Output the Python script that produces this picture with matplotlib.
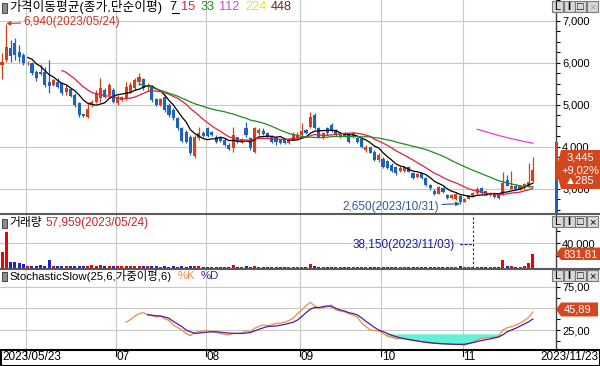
import numpy as np
import pandas as pd
import matplotlib
matplotlib.use('Agg')
import matplotlib.pyplot as plt
import matplotlib.transforms as mtrans
from matplotlib.patches import Rectangle, Polygon

plt.rcParams['font.family'] = ['Liberation Sans', 'Noto Sans CJK KR', 'DejaVu Sans']
plt.rcParams['font.size'] = 8.5

# daily candles 2023/05/23 .. 2023/11/23 (125 trading days)
opens = [5950, 6070, 6350, 6470, 6270, 6190, 5990, 5990, 5790, 5790,
         5790, 5555, 5475, 5555, 5515, 5320, 5380, 5240, 5040, 4780,
         4720, 5000, 5080, 5160, 5360, 5240, 5360, 5040, 5120, 5160,
         5320, 5400, 5555, 5610, 5435, 5435, 5135, 5000, 5200, 5000,
         4880, 4680, 4445, 4365, 4245, 3790, 4205, 4340, 4445, 4365,
         4245, 4205, 4165, 4045, 3970, 4230, 4125, 4445, 4205, 3890,
         4325, 4390, 4340, 4260, 4205, 4165, 4165, 4100, 4165, 4205,
         4285, 4405, 4485, 4760, 4445, 4205, 4445, 4525, 4405, 4230,
         4340, 4325, 4245, 4205, 4180, 3930, 3990, 3890, 3690, 3705,
         3665, 3570, 3530, 3435, 3430, 3530, 3390, 3295, 3375, 3255,
         3095, 2960, 2890, 3030, 2860, 2790, 2760, 2830, 2700, 2770,
         2840, 2900, 3020, 2940, 2850, 2870, 2860, 2880, 3220, 3010,
         3080, 2990, 3020, 3060, 3190]
highs = [6230, 6940, 6550, 6590, 6430, 6230, 6050, 6030, 5830, 5950,
         5910, 6070, 5620, 5635, 5555, 5475, 5400, 5280, 5080, 4790,
         5080, 5120, 5360, 5635, 5400, 5515, 5400, 5240, 5210, 5555,
         5555, 5635, 5770, 5635, 5515, 5475, 5160, 5170, 5240, 5040,
         4920, 4720, 4485, 4405, 4285, 4285, 4485, 4370, 4485, 4390,
         4285, 4230, 4205, 4085, 4485, 4245, 4210, 4605, 4245, 4485,
         4445, 4445, 4365, 4285, 4260, 4190, 4190, 4210, 4365, 4365,
         4565, 4430, 4840, 4800, 4470, 4350, 4485, 4580, 4430, 4365,
         4365, 4340, 4350, 4230, 4205, 4050, 4010, 3930, 3850, 3770,
         3690, 3610, 3550, 3550, 3540, 3550, 3415, 3380, 3390, 3295,
         3110, 3000, 3080, 3050, 2880, 2890, 2900, 2850, 2790, 2860,
         2930, 3040, 3050, 2960, 2920, 2890, 2880, 3400, 3340, 3440,
         3110, 3090, 3150, 3610, 3760]
lows = [5610, 6030, 6030, 6070, 6030, 5950, 5960, 5710, 5560, 5710,
        5440, 5280, 5450, 5400, 5240, 5240, 5180, 4960, 4720, 4720,
        4680, 4960, 5040, 5080, 5160, 5200, 5040, 5000, 5100, 5120,
        5280, 5360, 5475, 5360, 5340, 5080, 4980, 4980, 4840, 4720,
        4640, 4400, 4125, 4085, 3810, 3740, 4165, 4240, 4245, 4265,
        4085, 4130, 4020, 3930, 3890, 4100, 4100, 4245, 3930, 3850,
        4285, 4285, 4205, 4100, 4045, 4080, 4060, 4080, 4165, 4165,
        4245, 4300, 4445, 4420, 4230, 4190, 4285, 4365, 4260, 4205,
        4240, 4100, 4220, 4100, 3985, 3890, 3850, 3665, 3650, 3490,
        3470, 3405, 3335, 3415, 3410, 3400, 3230, 3270, 3230, 3070,
        2975, 2860, 2870, 2900, 2760, 2770, 2740, 2650, 2680, 2750,
        2820, 2880, 2880, 2860, 2830, 2790, 2760, 2860, 3060, 2990,
        2990, 2970, 3000, 3040, 3170]
closes = [6030, 6390, 6170, 6190, 6135, 5990, 6010, 5750, 5635, 5740,
          5475, 5455, 5595, 5435, 5280, 5400, 5215, 5000, 4760, 4740,
          4900, 5080, 5280, 5400, 5200, 5475, 5080, 5200, 5185, 5435,
          5475, 5595, 5660, 5400, 5460, 5120, 5000, 5135, 4880, 4760,
          4680, 4445, 4140, 4125, 3860, 4240, 4325, 4260, 4260, 4285,
          4125, 4150, 4045, 3945, 4285, 4125, 4180, 4285, 3970, 4445,
          4405, 4310, 4230, 4125, 4125, 4100, 4085, 4180, 4285, 4285,
          4390, 4325, 4720, 4445, 4245, 4325, 4325, 4390, 4285, 4325,
          4260, 4125, 4325, 4125, 4010, 4010, 3865, 3690, 3810, 3530,
          3490, 3430, 3375, 3510, 3515, 3415, 3255, 3355, 3255, 3095,
          3015, 2890, 3050, 2930, 2790, 2860, 2880, 2680, 2770, 2845,
          2910, 3010, 2900, 2880, 2900, 2810, 2780, 3150, 3080, 3080,
          3010, 3060, 3130, 3160, 3445]
volumes = [26600, 57959, 9700, 9700, 7700, 6200, 3500, 3500, 3800, 4600,
           3500, 12800, 3800, 3500, 3000, 2500, 3500, 4000, 3200, 2500,
           4000, 4200, 3500, 4600, 3000, 3600, 3000, 2500, 2500, 3600,
           3000, 3800, 3600, 2500, 3000, 4000, 2500, 2000, 3000, 2000,
           2500, 2000, 2600, 2000, 3000, 3500, 2500, 1800, 2200, 1800,
           2000, 1600, 1800, 2000, 5000, 2200, 2000, 2600, 2200, 3400,
           2000, 1800, 1600, 1800, 2000, 1500, 1600, 1500, 2000, 1800,
           2400, 1600, 7200, 3000, 2200, 1800, 2000, 2200, 1600, 1500,
           1400, 1800, 1500, 1400, 2000, 1600, 1500, 2200, 1800, 2000,
           1600, 1800, 1900, 1500, 1400, 1600, 2000, 1500, 1600, 2200,
           1800, 1900, 2400, 1700, 2000, 1600, 1800, 2600, 1600, 1500,
           1400, 2200, 1800, 1500, 1600, 1500, 1800, 12300, 3800, 3500,
           2300, 2300, 3800, 8200, 22600]

# StochasticSlow(25,6,weighted,6)
k_start = 29
stoch_k = [34, 37, 41, 44, 45, 43, 42, 40, 41, 38,
           36, 31, 28, 25, 21, 18.5, 22, 23, 24, 24.3,
           23, 22, 21, 20, 19.3, 21, 21, 21, 24, 23,
           27, 29, 31, 30, 31, 32.7, 33, 34, 36, 38.5,
           44, 48, 53, 57, 53, 50, 51, 52, 54, 48,
           47, 46, 44, 42, 40, 33, 29, 25, 24.5, 24,
           21, 18, 16.5, 15.4, 15, 14.7, 14, 13, 12.4, 11.5,
           10.4, 10, 9.7, 9.5, 9.2, 8.9, 8.7, 8.5, 8, 7.7,
           9, 11, 13.5, 15, 15.8, 16.2, 16.8, 17.4, 25, 27.7,
           29, 30.8, 33, 36, 39.3, 45.89]
d_start = 34
stoch_d = [42.4, 42, 41.5, 41.2, 40, 38.5, 35, 32, 29, 25,
           23, 21.2, 21.5, 22, 22.5, 23, 23, 22.5, 22, 21.5,
           21.2, 21.2, 21.2, 21.5, 22, 24, 25.8, 27.5, 29, 29.3,
           29.7, 30.5, 31.5, 32.7, 34, 36.5, 40.4, 45, 49, 51,
           51, 52, 52.7, 52, 50, 48, 47, 45, 44, 42.4,
           39, 35, 31.6, 28, 25, 23.1, 21, 19, 17.4, 16,
           15, 14, 13.2, 12.4, 11.6, 11, 10.5, 9.8, 9.4, 9.1,
           8.9, 8.7, 8.5, 8.5, 8.5, 9.5, 10.5, 11.7, 12.8, 13.8,
           14.7, 15.8, 17, 19.5, 23, 25, 27, 29.5, 32, 34.5,
           37.7]

month_idx = [6, 27, 48, 70, 89, 108]
month_labels = ['', '07', '08', '09', '10', '11']
first_date = '2023/05/23'
last_date = '2023/11/23'

ma_periods = [7, 15, 33, 112, 224, 448]
ma_colors = ['#000000', '#E0203C', '#1E8C1E', '#E040E0', '#E8E020', '#7A1E1E']

UP = '#D2401E'
DOWN = '#1F63B8'
VOL_UP = '#F00000'
VOL_DOWN = '#2020C8'
GRID = '#C8C8C8'
TAG = '#D4461E'
K_COL = '#F08A40'
D_COL = '#4B1E96'

W, H = 600, 366


def fx(x):
    return x / W


def fy(y):
    return 1 - y / H


def rect(x0, y0, x1, y1):
    return [fx(x0), fy(y1), (x1 - x0) / W, (y1 - y0) / H]


def chain(ax, first, parts, gap=6):
    # write coloured legend pieces one after the other
    prev = first
    for s, col in parts:
        prev = ax.annotate(s, xy=(1, 0.5), xycoords=prev, xytext=(gap, 0),
                           textcoords='offset pixels', ha='left', va='center',
                           color=col, fontsize=first.get_fontsize())
    return prev


fig = plt.figure(figsize=(6, 3.66), dpi=100)
ax1 = fig.add_axes(rect(0, 0, 556, 213))
ax2 = fig.add_axes(rect(0, 214, 556, 268))
ax3 = fig.add_axes(rect(0, 269, 556, 349))

n = len(closes)
x = np.arange(n)
o = np.array(opens, float)
c = np.array(closes, float)
up = c >= o

for ax in (ax1, ax2, ax3):
    ax.set_xlim(-0.47, 129.4)
    ax.set_xticks([])
    for s in ('top', 'left', 'bottom'):
        ax.spines[s].set_visible(False)
    ax.spines['right'].set_color('#404040')
    ax.spines['right'].set_linewidth(1)
    ax.yaxis.tick_right()
    ax.tick_params(axis='y', which='both', direction='out', length=3, width=0.8,
                   labelsize=8, pad=1.5, colors='black')
    for m in month_idx:
        ax.axvline(m - 0.4, color=GRID, lw=0.8, zorder=0)

# ---- price panel
ax1.set_ylim(2428, 7500)
price_ticks = [3000, 4000, 5000, 6000, 7000]
ax1.set_yticks(price_ticks)
ax1.set_yticklabels([f'{v:,}' for v in price_ticks])
ax1.set_yticks(np.arange(2500, 7501, 250), minor=True)
for v in price_ticks:
    ax1.axhline(v, color=GRID, lw=0.8, zorder=0)

cols = [UP if u else DOWN for u in up]
ax1.vlines(x, lows, highs, colors=cols, lw=0.9, zorder=2)
body_lo = np.minimum(o, c)
body_h = np.maximum(np.abs(c - o), 10)
ax1.bar(x, body_h, bottom=body_lo, width=0.72, color=cols, linewidth=0, zorder=3)

close_s = pd.Series(closes, dtype=float)
for p, col in zip(ma_periods, ma_colors):
    ma = close_s.rolling(p).mean()
    if ma.notna().any():
        ax1.plot(x, ma, color=col, lw=0.9, zorder=4)

hi_i = int(np.argmax(highs))
lo_i = int(np.argmin(lows))
ax1.annotate('6,940(2023/05/24)', xy=(hi_i, highs[hi_i]), xytext=(17, 2),
             textcoords='offset pixels', ha='left', va='center', color='#C83C28',
             arrowprops=dict(arrowstyle='-|>', color='#C83C28', lw=0.8,
                             shrinkA=0, shrinkB=0, mutation_scale=6))
ax1.annotate('2,650(2023/10/31)', xy=(lo_i, lows[lo_i]), xytext=(-21, -3),
             textcoords='offset pixels', ha='right', va='center', color='#2C5A9A',
             arrowprops=dict(arrowstyle='-|>', color='#2C5A9A', lw=0.8,
                             shrinkA=0, shrinkB=0, mutation_scale=6))

# ---- volume panel
ax2.set_ylim(0, 88000)
ax2.set_yticks([40000])
ax2.set_yticklabels(['40,000'])
ax2.set_yticks([20000, 60000, 80000], minor=True)
ax2.axhline(40000, color=GRID, lw=0.8, zorder=0)
vcols = [VOL_UP if u else VOL_DOWN for u in up]
ax2.bar(x, volumes, width=0.7, color=vcols, linewidth=0, zorder=2)
ax2.axvline(110, color='#1A1AA0', lw=0.8, ls=(0, (2, 2)), zorder=3)
ax2.annotate('38,150(2023/11/03)', xy=(110, 38150), xytext=(-18, 0),
             textcoords='offset pixels', ha='right', va='center', color='#1A1AA0',
             arrowprops=dict(arrowstyle='-', color='#1A1AA0', lw=0.8, ls=(0, (2, 2)),
                             shrinkA=2, shrinkB=0))

# ---- stochastic panel
ax3.set_ylim(3.1, 95.4)
ax3.set_yticks([25, 75])
ax3.set_yticklabels(['25,00', '75,00'])
ax3.set_yticks([12.5, 37.5, 50, 62.5, 87.5], minor=True)
for v in (25, 50, 75):
    ax3.axhline(v, color=GRID, lw=0.8, zorder=0)
kx = np.arange(k_start, k_start + len(stoch_k))
dx = np.arange(d_start, d_start + len(stoch_d))
k_arr = np.array(stoch_k)
ax3.fill_between(kx, 20, k_arr, where=k_arr < 20, interpolate=True,
                 color='#62F0D6', linewidth=0, zorder=1)
ax3.plot(kx, stoch_k, color=K_COL, lw=0.9, zorder=3)
ax3.plot(dx, stoch_d, color=D_COL, lw=0.9, zorder=4)

# ---- panel frames and date strip
for yy in (213.5, 268.5):
    fig.add_artist(plt.Line2D([0, 1], [fy(yy), fy(yy)], color='#5A5A5A', lw=1.5))
fig.add_artist(Rectangle((fx(0.5), fy(365.5)), 599 / W, 16 / H, fill=False,
                         ec='black', lw=1.5))
blend = mtrans.blended_transform_factory(ax3.transData, fig.transFigure)
for m, lab in zip(month_idx, month_labels):
    fig.add_artist(plt.Line2D([m - 0.4, m - 0.4], [fy(349), fy(356)],
                              transform=blend, color='black', lw=0.8))
    if lab:
        fig.text(m - 0.2, fy(357.5), lab, transform=blend, ha='left', va='center')
fig.text(fx(2), fy(357.5), first_date, ha='left', va='center')
fig.text(fx(598), fy(357.5), last_date, ha='right', va='center')

# current-bar marker on the price axis
fig.add_artist(Rectangle((fx(555), fy(180)), 3 / W, 38 / H, color=UP, lw=0))
fig.add_artist(Rectangle((fx(555), fy(213)), 3 / W, 33 / H, color=DOWN, lw=0))


def tag(y0, y1, tip, lines, x_end=600):
    pts = [(fx(556), fy(tip)), (fx(561), fy(y0)), (fx(x_end), fy(y0)),
           (fx(x_end), fy(y1)), (fx(561), fy(y1))]
    fig.add_artist(Polygon(pts, closed=True, color=TAG, lw=0))
    for yy, s, xx, ha in lines:
        fig.text(fx(xx), fy(yy), s, color='white', ha=ha, va='center', fontsize=8)


tag(150, 189, 170, [(158, '3,445', 580, 'center'), (170, '+9,02%', 580, 'center'),
                    (181, '\u25b2285', 580, 'center')])
tag(247.5, 260, 253.5, [(254.5, '831,81', 563, 'left')])
tag(302.5, 316.5, 309.5, [(309.5, '45,89', 578, 'center')], x_end=598)

# window buttons at the top right of each panel
for y0, last_on in ((1, False), (216, True), (270, True)):
    for j, g in enumerate(['L', 'I', '\u25a1', '\u00d7']):
        bx = 552 + j * 11.5
        fig.add_artist(Rectangle((fx(bx), fy(y0 + 11)), 11 / W, 11 / H,
                                 fc='#D8D8D8', ec='#7A7A7A', lw=0.8))
        gc = 'black' if (j < 3 or last_on) else '#A0A0A0'
        fig.text(fx(bx + 5.5), fy(y0 + 5.8), g, ha='center', va='center',
                 color=gc, fontsize=8, fontweight='bold' if g == 'I' else 'normal')

# panel titles
for yy in (8, 223, 276):
    fig.add_artist(Rectangle((fx(2), fy(yy + 4.5)), 5 / W, 9 / H, fc='#8C8C8C',
                             ec='#303030', lw=0.6))
t1 = ax1.text(fx(9), fy(7.5), '가격이동평균(종가,단순이평)', transform=fig.transFigure,
              ha='left', va='center', fontsize=9.2)
t_ma = ax1.annotate(str(ma_periods[0]), xy=(1, 0.5), xycoords=t1, xytext=(7, 0),
                    textcoords='offset pixels', ha='left', va='center',
                    color=ma_colors[0], fontsize=9.2)
chain(ax1, t_ma, [(str(p), col) for p, col in zip(ma_periods[1:], ma_colors[1:])], gap=5)
fig.add_artist(plt.Line2D([fx(172), fx(179)], [fy(12.5), fy(12.5)], color='black', lw=0.8))

fig.text(fx(9), fy(223), '거래량', ha='left', va='center')
fig.text(fx(45), fy(223), '57,959(2023/05/24)', color='#D02020', ha='left', va='center')

t3 = ax3.text(fx(9), fy(276), 'StochasticSlow(25,6,가중이평,6)', transform=fig.transFigure,
              ha='left', va='center', fontsize=8.2)
chain(ax3, t3, [('%K', K_COL), ('%D', D_COL)], gap=6)

fig.savefig('out.png', dpi=100)
